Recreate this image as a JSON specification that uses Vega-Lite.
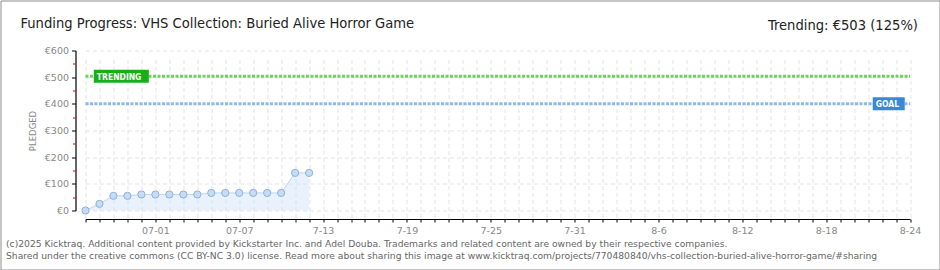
{
  "$schema": "https://vega.github.io/schema/vega-lite/v6.json",
  "width": 939,
  "height": 269,
  "autosize": "none",
  "padding": {"left": 0.5, "top": 0.5, "right": 0.5, "bottom": 0.5},
  "background": "white",
  "title": {
    "text": "Funding Progress: VHS Collection: Buried Alive Horror Game",
    "anchor": "start",
    "frame": "group",
    "offset": -28.5,
    "baseline": "alphabetic",
    "dx": 20,
    "dy": 14,
    "font": "DejaVu Sans Condensed",
    "fontSize": 14.6,
    "fontWeight": "normal",
    "color": "#222222"
  },
  "config": {
    "view": {"stroke": "#8c8c8c", "strokeWidth": 1, "fill": "white"}
  },
  "datasets": {
    "main": [
      {"date": "2025-06-26", "value": 0},
      {"date": "2025-06-27", "value": 25},
      {"date": "2025-06-28", "value": 55},
      {"date": "2025-06-29", "value": 55},
      {"date": "2025-06-30", "value": 60},
      {"date": "2025-07-01", "value": 60},
      {"date": "2025-07-02", "value": 60},
      {"date": "2025-07-03", "value": 60},
      {"date": "2025-07-04", "value": 60},
      {"date": "2025-07-05", "value": 66},
      {"date": "2025-07-06", "value": 66},
      {"date": "2025-07-07", "value": 66},
      {"date": "2025-07-08", "value": 66},
      {"date": "2025-07-09", "value": 66},
      {"date": "2025-07-10", "value": 66},
      {"date": "2025-07-11", "value": 141},
      {"date": "2025-07-12", "value": 141}
    ],
    "lines": [
      {"name": "TRENDING", "value": 503, "start": "2025-06-26", "end": "2025-08-24", "labelStart": "2025-06-26T14:15:00Z", "labelEnd": "2025-06-30T12:45:00Z"},
      {"name": "GOAL", "value": 400, "start": "2025-06-26", "end": "2025-08-24", "labelStart": "2025-08-21T08:00:00Z", "labelEnd": "2025-08-23T15:00:00Z"}
    ]
  },
  "layer": [
    {
      "data": {"name": "main"},
      "mark": {"type": "area", "fill": "#cfe2f8", "fillOpacity": 0.45, "line": {"stroke": "#bcd5f2", "strokeWidth": 1}},
      "encoding": {
        "x": {
          "field": "date", "type": "temporal",
          "scale": {"type": "utc", "range": [85, 909.5], "nice": false},
          "axis": {
            "orient": "bottom",
            "offset": -50.5,
            "tickCount": {"interval": "day", "step": 1},
            "labelExpr": "(round((datum.value - utc(2025,5,26))/864e5) - 5) % 6 == 0 ? (datum.value < utc(2025,6,10) ? utcFormat(datum.value, '%m-%d') : utcFormat(datum.value, '%-m-%-d')) : ''",
            "labelFont": "DejaVu Sans",
            "labelFontSize": 9.5,
            "labelColor": "#888888",
            "labelPadding": 3,
            "labelOverlap": false,
            "labelFlush": false,
            "labelBound": false,
            "tickColor": "#000000",
            "tickSize": 3,
            "tickWidth": 1,
            "domainColor": "#000000",
            "domainWidth": 1.2,
            "grid": true,
            "gridColor": "#e3e3e3",
            "gridDash": [4, 3],
            "title": [
              "(c)2025 Kicktraq. Additional content provided by Kickstarter Inc. and Adel Douba. Trademarks and related content are owned by their respective companies.",
              "Shared under the creative commons (CC BY-NC 3.0) license. Read more about sharing this image at www.kicktraq.com/projects/770480840/vhs-collection-buried-alive-horror-game/#sharing"
            ],
            "titleX": 5,
            "titleY": 27,
            "titleAlign": "left",
            "titleAnchor": "start",
            "titleAngle": 0,
            "titleBaseline": "alphabetic",
            "titleFont": "DejaVu Sans",
            "titleFontSize": 9.2,
            "titleFontWeight": "normal",
            "titleColor": "#666666",
            "titleLineHeight": 12
          }
        },
        "y": {
          "field": "value", "type": "quantitative",
          "scale": {"domain": [0, 600], "range": [210, 50], "nice": false, "zero": true},
          "axis": {
            "orient": "left",
            "offset": -75,
            "values": [0, 100, 200, 300, 400, 500, 600],
            "labelExpr": "'€' + datum.value",
            "labelFont": "DejaVu Sans",
            "labelFontSize": 9.5,
            "labelColor": "#888888",
            "labelPadding": 3,
            "tickColor": "#000000",
            "tickSize": 4,
            "domainColor": "#000000",
            "domainWidth": 1.2,
            "grid": true,
            "gridColor": "#e3e3e3",
            "gridDash": [4, 3],
            "title": "PLEDGED",
            "titleX": -43.5,
            "titleY": 130,
            "titleAngle": -90,
            "titleAlign": "center",
            "titleBaseline": "middle",
            "titleFont": "DejaVu Sans",
            "titleFontSize": 8.5,
            "titleFontWeight": "normal",
            "titleColor": "#888888"
          }
        }
      }
    },
    {
      "data": {"name": "lines"},
      "mark": {"type": "rule", "strokeWidth": 3, "strokeDash": [3, 1.5]},
      "encoding": {
        "x": {"field": "start", "type": "temporal"},
        "x2": {"field": "end"},
        "y": {
          "field": "value", "type": "quantitative",
          "axis": {
            "orient": "left",
            "offset": -75,
            "values": [50, 150, 250, 350, 450, 550],
            "labels": false,
            "domain": false,
            "grid": false,
            "tickColor": "#e00000",
            "tickSize": 3,
            "title": null
          }
        },
        "color": {"field": "name", "type": "nominal", "scale": {"domain": ["TRENDING", "GOAL"], "range": ["#72cf62", "#8dbaea"]}, "legend": null}
      }
    },
    {
      "data": {"name": "lines"},
      "mark": {"type": "rule", "strokeWidth": 13, "strokeCap": "butt"},
      "encoding": {
        "x": {"field": "labelStart", "type": "temporal"},
        "x2": {"field": "labelEnd"},
        "y": {
          "field": "value", "type": "quantitative",
          "axis": {
            "orient": "right",
            "labels": false,
            "ticks": false,
            "domain": false,
            "grid": false,
            "title": "Trending:  €503 (125%)",
            "titleX": -22,
            "titleY": 29,
            "titleAngle": 0,
            "titleAlign": "right",
            "titleBaseline": "alphabetic",
            "titleFont": "DejaVu Sans Condensed",
            "titleFontSize": 14.6,
            "titleFontWeight": "normal",
            "titleColor": "#222222"
          }
        },
        "stroke": {"field": "name", "type": "nominal", "scale": {"domain": ["TRENDING", "GOAL"], "range": ["#16b016", "#3a87d6"]}, "legend": null}
      }
    },
    {
      "data": {"name": "lines"},
      "mark": {"type": "text", "align": "left", "baseline": "middle", "dx": 3, "dy": 0.5, "font": "DejaVu Sans Condensed", "fontSize": 8.5, "fontWeight": "bold", "color": "white"},
      "encoding": {
        "x": {"field": "labelStart", "type": "temporal"},
        "y": {"field": "value", "type": "quantitative", "axis": null},
        "text": {"field": "name"}
      }
    },
    {
      "data": {"name": "main"},
      "mark": {"type": "point", "filled": true, "fill": "#c6dcf5", "stroke": "#8fb1da", "strokeWidth": 1, "size": 52, "opacity": 1},
      "encoding": {
        "x": {"field": "date", "type": "temporal"},
        "y": {"field": "value", "type": "quantitative", "axis": null}
      }
    }
  ],
  "resolve": {"axis": {"y": "independent"}, "scale": {"color": "independent", "stroke": "independent"}}
}
